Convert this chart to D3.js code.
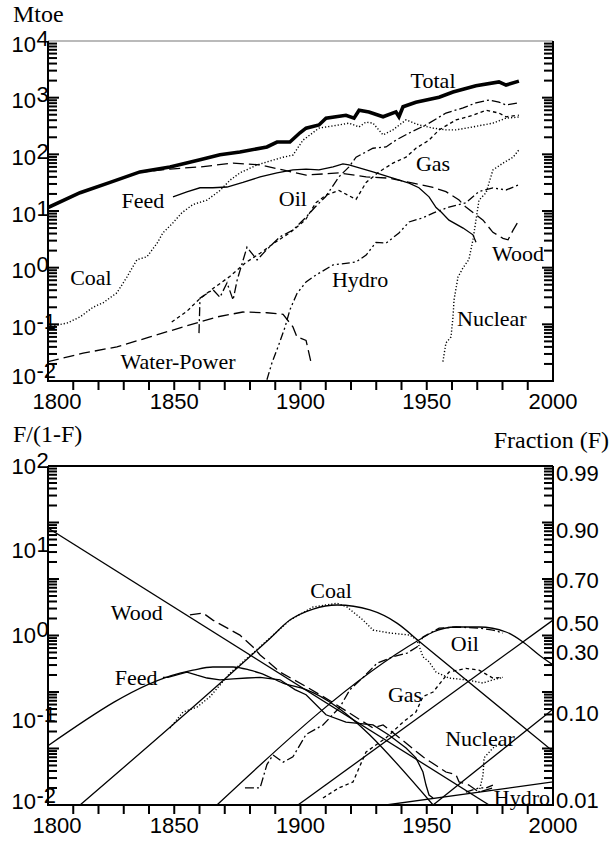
<!DOCTYPE html>
<html>
<head>
<meta charset="utf-8">
<title>Primary energy use and market shares</title>
<style>
  body { margin: 0; background: #fff; }
  .lab { font-family: "Liberation Serif", "Times New Roman", serif; font-size: 22px; fill: #000; }
  .title { font-family: "Liberation Serif", "Times New Roman", serif; font-size: 24px; fill: #000; }
  .num { font-family: "Liberation Sans", Arial, sans-serif; font-size: 22px; fill: #000; }
  .series { fill: none; stroke: #000; }
</style>
</head>
<body>
<svg width="612" height="841"></svg>
<script src="https://d3js.org/d3.v7.min.js"></script>
<script>

// ---- top panel: primary energy, Mtoe (year, value) ----
var total = [[1800,11.5],[1812.7,21],[1824.6,32],[1836.4,49],[1848.3,60],[1860.2,80],[1868.1,98],[1876,110],
  [1886.7,135],[1890.7,165],[1895.8,165],[1899.8,240],[1902.2,290],[1907.3,330],[1910.1,435],[1918,490],
  [1921.2,435],[1923.2,600],[1927.1,560],[1932.7,460],[1937.8,560],[1939,460],[1940.6,690],[1945.7,830],
  [1954.9,1020],[1960.4,1260],[1969.5,1620],[1978.6,1900],[1981.4,1670],[1986.5,1960]];

var coal = [[1800,0.09],[1807.5,0.105],[1812.7,0.135],[1817.8,0.2],[1821.8,0.24],[1827.3,0.36],[1831.3,0.69],
  [1835.2,1.38],[1839.2,1.56],[1843.2,2.7],[1845.5,4.1],[1849.5,6.2],[1853,9.3],[1857.4,13],[1863,15.6],
  [1868.1,23],[1872.1,35],[1876,47],[1882.8,65],[1889.1,79],[1893.1,89],[1897,97],[1901,178],[1907.3,290],
  [1915.2,330],[1919.2,355],[1923.2,305],[1925.9,370],[1928.7,355],[1932.7,220],[1936.6,270],[1941.8,405],
  [1946.9,330],[1952.5,290],[1957.6,270],[1961.6,270],[1968.3,305],[1976.2,355],[1981.4,435],[1986.5,455]];

var wood = [[1800,11.5],[1812.7,21],[1824.6,32],[1836.4,48],[1848.3,55],[1860.2,60],[1873.3,70],[1884,65],
  [1893,53],[1902.2,43],[1915.2,47],[1926,40],[1935,38],[1944.6,31],[1952.5,26],[1957.6,22],[1962.8,15.6],
  [1965.5,11.7],[1972.3,6.9],[1976.2,4.2],[1980.2,3.3],[1982.2,3.1],[1984.2,4.6],[1986.1,6.4]];

var feed = [[1849.5,17.8],[1855,21.7],[1860.2,25.7],[1865.3,25.7],[1870.9,26.5],[1877.2,32],[1884,40],
  [1890.7,47],[1897,53],[1902.2,55],[1907.3,53],[1912.9,60],[1916.8,68],[1919.2,65],[1928.7,49],[1935,40],
  [1943,31],[1946.9,25.7],[1950.9,17.8],[1953.7,11.5],[1955.7,9.6],[1958.8,6.9],[1964.4,5],[1968.3,3.8],
  [1969.5,2.8]];

var oil = [[1859.8,0.07],[1860.2,0.29],[1865.3,0.41],[1868.1,0.3],[1870.9,0.54],[1873.3,0.27],[1874.9,0.6],
  [1878.8,2.3],[1882.8,1.37],[1886.7,2.1],[1891.9,3.5],[1897,4.6],[1902.2,7.8],[1906,12],[1910,18],
  [1915.2,40],[1919.2,60],[1922,89],[1928.7,128],[1933.9,135],[1937.8,178],[1943,237],[1949.7,330],
  [1957.6,535],[1964.4,660],[1969.5,810],[1974.7,910],[1978.6,835],[1981.4,740],[1986.5,810]];

var gas = [[1849,0.11],[1855,0.17],[1860,0.28],[1866,0.45],[1872,0.7],[1878,1.2],[1884,1.8],[1890,2.8],
  [1896,4.2],[1902,7],[1906.1,14],[1910.1,19],[1915.2,23],[1922,16],[1926,32],[1931.1,49],[1936.6,70],
  [1941.8,89],[1945.7,128],[1950.9,178],[1954.9,270],[1961.6,405],[1968.3,490],[1973.5,600],[1978.6,535],
  [1981.4,460],[1986.5,490]];

var hydro = [[1886.7,0.0105],[1888.7,0.021],[1891.1,0.04],[1893.9,0.09],[1895.8,0.18],[1898.6,0.35],
  [1902.2,0.56],[1906.1,0.74],[1912.9,1.12],[1922,1.26],[1926,1.67],[1929.9,2.8],[1933.9,2.7],[1939,4.1],
  [1943,6.4],[1948.5,7.6],[1952.5,9.2],[1958.8,11.7],[1965.5,14],[1970.7,22],[1976.2,25.5],[1981.4,23.5],
  [1986.5,29]];

var nuclear = [[1956.4,0.022],[1957.6,0.047],[1959.6,0.06],[1960.4,0.135],[1960.8,0.27],[1962.4,0.69],
  [1964.4,1.0],[1966.7,1.4],[1968.3,3.1],[1969.5,6.9],[1970.7,15.6],[1973.5,21],[1976.2,53],[1980.2,70],
  [1984.2,89],[1986.5,120]];

var waterPower = [[1800,0.022],[1813.9,0.031],[1827.3,0.04],[1840.4,0.06],[1853.5,0.09],[1866.9,0.135],
  [1877.2,0.165],[1886.7,0.16],[1893.1,0.15],[1897,0.09],[1898.6,0.06],[1902.2,0.052],[1904.2,0.021]];

var topLabelNames = ["Total","Feed","Oil","Gas","Coal","Hydro","Wood","Nuclear","Water-Power"];
var topLabelAt = [[1952.5,2050],[1837.6,15.6],[1897,17],[1952.5,70],[1817,0.685],[1923.6,0.63],
  [1986.1,1.82],[1975.8,0.129],[1851.5,0.0226]];

// ---- bottom panel: market shares as F/(1-F) ----
// fitted substitution curves
var woodFit = [[1800,18.5],[1974.7,0.01]];
var feedFit = [[1800,0.05],[1852.3,0.36],[1857.4,0.39],[1865.3,0.425],[1873.3,0.425],[1880,0.39],
  [1884,0.36],[1893.1,0.275],[1902.2,0.23],[1952.5,0.01]];
var coalFit = [[1812.7,0.01],[1888,0.93],[1895.8,1.52],[1905,2.05],[1914.5,2.29],[1927.5,2.0],
  [1938.2,1.4],[1947.3,0.84],[2000,0.043]];
var oilFit = [[1866.9,0.01],[1946.9,0.885],[1952.5,1.1],[1961.6,1.26],[1970.7,1.26],[1981.4,1.1],
  [1988.1,0.84],[1994.5,0.59],[2000,0.45]];
var gasFit = [[1899,0.01],[2000,1.52]];
var nuclearFit = [[1952.5,0.01],[2000,0.135]];
var hydroFit = [[1933.9,0.01],[2000,0.0187]];

// observed shares
var woodShare = [[1856.2,1.75],[1861.4,1.84],[1865.3,1.52],[1876,1.01],[1881.2,0.73],[1884,0.59],
  [1891.9,0.37],[1902.2,0.25],[1911.7,0.17],[1928.7,0.081],[1932.7,0.088],[1937.8,0.067],[1948.5,0.037],
  [1957.6,0.0245],[1961.6,0.0227],[1962.8,0.0187],[1966.7,0.0172],[1970.7,0.0142],[1976.2,0.0159]];
var feedShare = [[1845.5,0.32],[1847.5,0.32],[1855,0.37],[1859,0.34],[1863,0.315],[1868.1,0.3],
  [1873.3,0.307],[1878.8,0.315],[1884,0.32],[1891.9,0.3],[1897.8,0.23],[1902.2,0.2],[1910.1,0.116],
  [1918,0.095],[1928.7,0.088],[1935,0.067],[1941.8,0.047],[1945.7,0.036],[1948.5,0.0245],
  [1949.7,0.0172],[1950.9,0.0131],[1952.5,0.0121]];
var coalShare = [[1848.3,0.081],[1853.5,0.125],[1859,0.143],[1864.2,0.19],[1872.1,0.36],[1881.2,0.62],
  [1895.8,1.52],[1905,2.17],[1914.5,2.4],[1918.4,2.17],[1924.8,1.52],[1928.7,1.16],[1935.4,1.07],
  [1943.4,1.01],[1946.1,0.885],[1948.5,0.56],[1950.9,0.49],[1953.7,0.37],[1958.8,0.315],[1965.5,0.3],
  [1972.3,0.275],[1976.2,0.3],[1980.2,0.32]];
var oilShare = [[1878,0.0159],[1884,0.0159],[1886.7,0.03],[1889.1,0.039],[1893.1,0.032],[1897,0.037],
  [1902.2,0.068],[1908.9,0.088],[1915.6,0.143],[1919.6,0.23],[1924.8,0.32],[1930.3,0.47],[1936.6,0.56],
  [1942.2,0.62],[1946.1,0.73],[1948.5,0.96],[1954.9,1.22],[1961.6,1.26],[1970.7,1.22],[1976.2,1.16],
  [1980.2,1.07]];
var gasShare = [[1908.9,0.0121],[1915.2,0.0159],[1920.8,0.0187],[1925.9,0.042],[1933.9,0.062],
  [1940.6,0.095],[1945.7,0.125],[1948.5,0.19],[1952.5,0.215],[1958.8,0.37],[1965.5,0.41],[1970.7,0.39],
  [1976.2,0.315],[1980.2,0.32]];
var nuclearShare = [[1970.7,0.0142],[1972.3,0.0227],[1972.7,0.036],[1976.2,0.047],[1979.4,0.054]];
var hydroShare = [[1965.5,0.0142],[1970.7,0.0159],[1973.5,0.0159],[1976.2,0.0172]];

var botLabelNames = ["Wood","Feed","Coal","Oil","Gas","Nuclear","Hydro"];
var botLabelAt = [[1835.2,1.89],[1834.9,0.32],[1912.1,3.44],[1965.1,0.82],[1941.4,0.2],[1971.1,0.062],
  [1987.7,0.0124]];

// right-hand fraction labels and where they are printed on the F/(1-F) scale
var fracLabels = ["0.99","0.90","0.70","0.50","0.30","0.10","0.01"];
var fracLabelOdds = [82.6, 17.6, 4.5, 1.4, 0.64, 0.122, 0.0115];

var yearLabels = [1800, 1850, 1900, 1950, 2000];
var yearTicks = d3.range(1810, 2000, 10);
var topExponents = [4, 3, 2, 1, 0, -1, -2];
var botExponents = [2, 1, 0, -1, -2];

// line styles per source
var styles = {
  "Total":       { w: 3.6, dash: null },
  "Feed":        { w: 1.3, dash: null },
  "Wood":        { w: 1.3, dash: "11,5" },
  "Water-Power": { w: 1.3, dash: "11,5" },
  "Coal":        { w: 1.4, dash: "1.2,2" },
  "Gas":         { w: 1.3, dash: "3.5,3" },
  "Oil":         { w: 1.3, dash: "9,3,2,3" },
  "Hydro":       { w: 1.3, dash: "8,3,2,3,2,3" },
  "Nuclear":     { w: 1.4, dash: "1.2,2" },
  "fit":         { w: 1.3, dash: null }
};

var svg = d3.select("svg");

var left = 48, right = 553;
var x = d3.scaleLinear().domain([1800, 2000]).range([left, right]);
var yTop = d3.scaleLog().domain([1e-2, 1e4]).range([381, 41]);
var yBot = d3.scaleLog().domain([1e-2, 1e2]).range([805, 466]);
// the lower frame carries the same six-decade tick ladder as the upper one
var yBotTicks = d3.scaleLog().domain([1e-2, 1e4]).range([805, 466]);

var defs = svg.append("defs");
defs.append("clipPath").attr("id", "clipTop").append("rect")
    .attr("x", left).attr("y", 41).attr("width", right - left).attr("height", 340);
defs.append("clipPath").attr("id", "clipBot").append("rect")
    .attr("x", left).attr("y", 466).attr("width", right - left).attr("height", 339);

function isMajor(v) {
    return Math.abs(Math.log10(v) - Math.round(Math.log10(v))) < 1e-6;
}

function drawPanel(tickScale, top, bottom, topStroke) {
    var dom = tickScale.domain();
    var logTicks = tickScale.ticks().filter(function(v) { return v > dom[0] * 1.001 && v < dom[1] * 0.999; });
    var g = svg.append("g");

    // inward log ticks on both sides
    g.append("g").selectAll("rect").data(logTicks).enter().append("rect")
        .attr("x", left)
        .attr("y", function(v) { return tickScale(v) - 1; })
        .attr("width", function(v) { return isMajor(v) ? 11 : 9; })
        .attr("height", 2)
        .attr("fill", "#000");
    g.append("g").selectAll("rect").data(logTicks).enter().append("rect")
        .attr("x", function(v) { return right - (isMajor(v) ? 11 : 9); })
        .attr("y", function(v) { return tickScale(v) - 1; })
        .attr("width", function(v) { return isMajor(v) ? 11 : 9; })
        .attr("height", 2)
        .attr("fill", "#000");

    // outward year ticks
    g.append("g").selectAll("rect").data(yearTicks).enter().append("rect")
        .attr("x", function(t) { return x(t) - 1; })
        .attr("y", bottom)
        .attr("width", 2)
        .attr("height", 9)
        .attr("fill", "#000");

    // frame
    g.append("path").attr("d", "M" + left + "," + top + "H" + right)
        .attr("fill", "none").attr("stroke", topStroke.c).attr("stroke-width", topStroke.w);
    g.append("path")
        .attr("d", "M" + left + "," + top + "V" + bottom + "H" + right + "V" + top)
        .attr("fill", "none").attr("stroke", "#000").attr("stroke-width", 2);

    // year labels
    g.append("g").selectAll("text").data(yearLabels).enter().append("text")
        .attr("class", "num")
        .attr("x", function(v) { return x(v) + (v === 1800 ? 9 : 0); })
        .attr("y", bottom + 28)
        .attr("text-anchor", "middle")
        .text(function(v) { return v; });
}

function powerLabels(yScale, exps, nudge, lowNudge) {
    var g = svg.append("g");
    exps.forEach(function(e, i) {
        var yy = yScale(Math.pow(10, e)) + (i === exps.length - 1 ? lowNudge : nudge);
        g.append("text").attr("class", "num").attr("x", 36).attr("y", yy)
            .attr("dy", "0.35em").attr("text-anchor", "end").attr("font-size", 21).text("10");
        g.append("text").attr("class", "num").attr("x", 36.5).attr("y", yy - 6)
            .attr("dy", "0.35em").attr("text-anchor", "start").attr("font-size", 13).text(e);
    });
}

function drawLine(yScale, clip, data, style, curve) {
    var line = d3.line()
        .x(function(d) { return x(d[0]); })
        .y(function(d) { return yScale(d[1]); })
        .curve(curve || d3.curveLinear);
    svg.append("path")
        .datum(data)
        .attr("class", "series")
        .attr("clip-path", "url(#" + clip + ")")
        .attr("stroke-width", style.w)
        .attr("stroke-dasharray", style.dash)
        .attr("d", line);
}

function seriesLabels(yScale, names, at) {
    svg.append("g").selectAll("text").data(names).enter().append("text")
        .attr("class", "lab")
        .attr("x", function(d, i) { return x(at[i][0]); })
        .attr("y", function(d, i) { return yScale(at[i][1]); })
        .attr("dy", "0.35em")
        .attr("text-anchor", "middle")
        .text(function(d) { return d; });
}

// ---------- top panel ----------
drawPanel(yTop, 41, 381, { c: "#777", w: 1.2 });
powerLabels(yTop, topExponents, 3, -5);
svg.append("text").attr("class", "title").attr("x", 13).attr("y", 22).text("Mtoe");

[["Water-Power", waterPower], ["Wood", wood], ["Feed", feed], ["Coal", coal], ["Oil", oil],
 ["Gas", gas], ["Hydro", hydro], ["Nuclear", nuclear], ["Total", total]].forEach(function(s) {
    drawLine(yTop, "clipTop", s[1], styles[s[0]]);
});
seriesLabels(yTop, topLabelNames, topLabelAt);

// ---------- bottom panel ----------
drawPanel(yBotTicks, 466, 805, { c: "#000", w: 2 });
powerLabels(yBot, botExponents, 0, -4);
svg.append("text").attr("class", "title").attr("x", 13).attr("y", 442).text("F/(1-F)");
svg.append("text").attr("class", "title").attr("x", 609).attr("y", 448)
    .attr("text-anchor", "end").text("Fraction (F)");

svg.append("g").selectAll("text").data(fracLabels).enter().append("text")
    .attr("class", "num")
    .attr("x", 556)
    .attr("y", function(d, i) { return yBot(fracLabelOdds[i]); })
    .attr("dy", "0.35em")
    .text(function(d) { return d; });

[woodFit, feedFit, coalFit, oilFit, gasFit, nuclearFit, hydroFit].forEach(function(f) {
    drawLine(yBot, "clipBot", f, styles.fit, d3.curveMonotoneX);
});
[["Wood", woodShare], ["Feed", feedShare], ["Coal", coalShare], ["Oil", oilShare], ["Gas", gasShare],
 ["Nuclear", nuclearShare], ["Hydro", hydroShare]].forEach(function(s) {
    drawLine(yBot, "clipBot", s[1], styles[s[0]]);
});
seriesLabels(yBot, botLabelNames, botLabelAt);

</script>
</body>
</html>
